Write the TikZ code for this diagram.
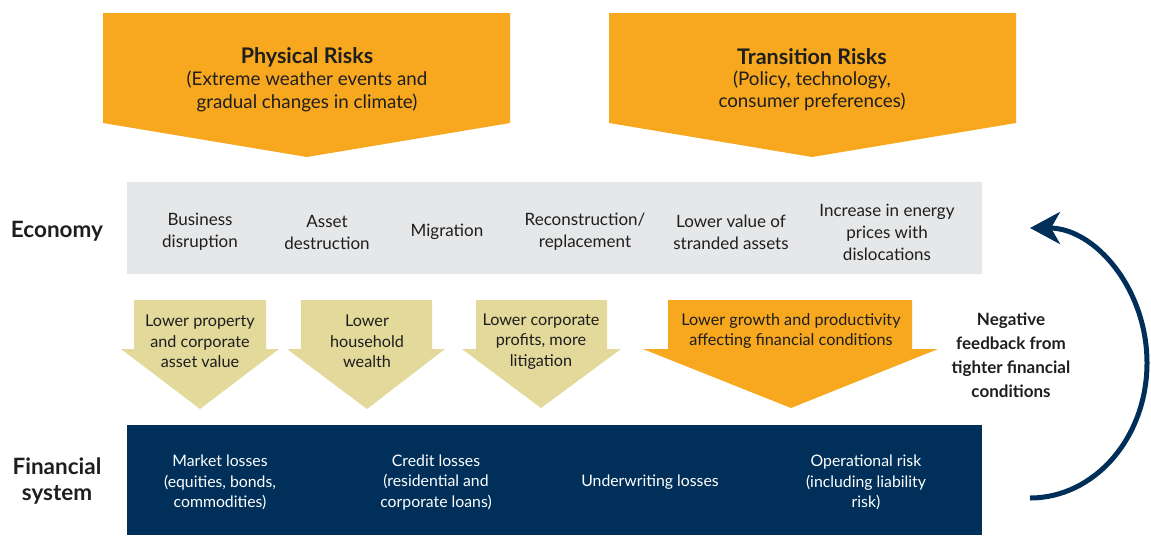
\documentclass[tikz,border=0pt]{standalone}
\usepackage{fontspec}
\setmainfont{Lato}
\usetikzlibrary{arrows.meta}
\definecolor{orng}{HTML}{F8A81E}
\definecolor{wheat}{HTML}{E3D99A}
\definecolor{lgrey}{HTML}{E6E7E8}
\definecolor{navy}{HTML}{00305A}
\definecolor{ink}{HTML}{1E1E1E}
\begin{document}
\begin{tikzpicture}[x=1pt,y=-1pt,
  title/.style={font=\fontsize{21.5}{22}\selectfont\bfseries, text=ink, inner sep=0pt},
  sub/.style={font=\fontsize{18.8}{22.5}\selectfont, text=ink, align=center, inner sep=0pt},
  econ/.style={font=\fontsize{17}{22}\selectfont, text=ink, align=center, inner sep=0pt},
  arrtxt/.style={font=\fontsize{16.2}{20.5}\selectfont, text=ink, align=center, inner sep=0pt},
  fintxt/.style={font=\fontsize{15.8}{20.5}\selectfont, text=white, align=center, inner sep=0pt},
  side/.style={font=\fontsize{22.5}{26}\selectfont\bfseries, text=ink, align=center, inner sep=0pt},
  fb/.style={font=\fontsize{17}{24}\selectfont\bfseries, text=ink, align=center, inner sep=0pt}]
\useasboundingbox (0,0) rectangle (1151,536);

% big risk arrows
\fill[orng] (103,13) -- (510,13) -- (510,123) -- (307,157) -- (103,123) -- cycle;
\fill[orng] (609,13) -- (1016,13) -- (1016,123) -- (812,157) -- (609,123) -- cycle;
\node[title] (phys) at (307,57.5) {Physical Risks};
\node[sub] (physsub) at (307,91.5) {(Extreme weather events and\\gradual changes in climate)};
\node[title] (trans) at (812,57) {Transition Risks};
\node[sub] (transsub) at (812,91) {(Policy, technology,\\consumer preferences)};

% economy band
\fill[lgrey] (127,182) rectangle (982,274);
\node[econ] (e1) at (200,232) {Business\\disruption};
\node[econ] (e2) at (327,232) {Asset\\destruction};
\node[econ] (e3) at (447,232) {Migration};
\node[econ] (e4) at (585,232) {Reconstruction/\\replacement};
\node[econ] (e5) at (731,232) {Lower value of\\stranded assets};
\node[econ] (e6) at (887,232) {Increase in energy\\prices with\\dislocations};

% transmission arrows
\fill[wheat] (134,300) -- (266,300) -- (266,349) -- (279,349) -- (200,409) -- (121,349) -- (134,349) -- cycle;
\fill[wheat] (301,300) -- (432,300) -- (432,349) -- (445,349) -- (367,409) -- (287,349) -- (301,349) -- cycle;
\fill[wheat] (476,300) -- (607,300) -- (607,349) -- (621,349) -- (541,408) -- (462,349) -- (476,349) -- cycle;
\fill[orng] (668,300) -- (912,300) -- (912,349) -- (938,349) -- (791,408) -- (643,349) -- (668,349) -- cycle;
\node[arrtxt] (a1) at (200,341.5) {Lower property\\and corporate\\asset value};
\node[arrtxt] (a2) at (367,341.5) {Lower\\household\\wealth};
\node[arrtxt] (a3) at (541,341.5) {Lower corporate\\profits, more\\litigation};
\node[arrtxt] (a4) at (791,331) {Lower growth and productivity\\affecting financial conditions};

% financial band
\fill[navy] (127,425) rectangle (982,535);
\node[fintxt] (f1) at (220,482.5) {Market losses\\(equities, bonds,\\commodities)};
\node[fintxt] (f2) at (436,482.5) {Credit losses\\(residential and\\corporate loans)};
\node[fintxt] (f3) at (650,482.5) {Underwriting losses};
\node[fintxt] (f4) at (866,482.5) {Operational risk\\(including liability\\risk)};

% side labels
\node[side] (economy) at (57,231) {Economy};
\node[side] (finsys) at (57,481) {Financial\\system};

% feedback
\node[fb] (fbtext) at (1011,355) {Negative\\feedback from\\tighter financial\\conditions};
\coordinate (fbstart) at (1030,498);
\draw[navy, line width=5pt, -{Stealth[length=30pt,width=32pt,inset=9pt]}]
  (fbstart) arc[start angle=90, end angle=-90, x radius=117, y radius=135];
\end{tikzpicture}
\end{document}
